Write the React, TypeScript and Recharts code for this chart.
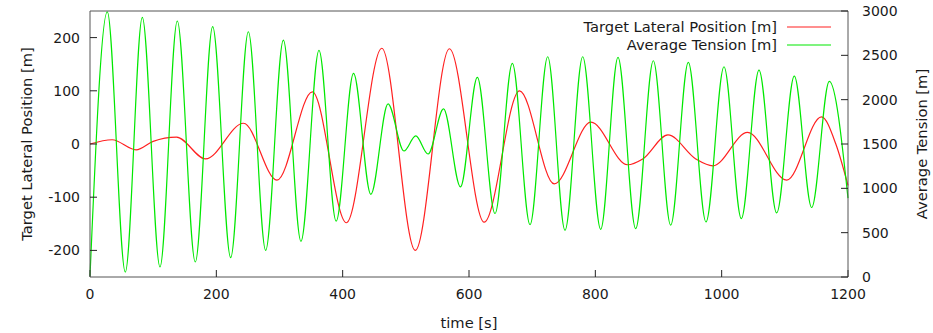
import React from 'react';
import { LineChart, Line, XAxis, YAxis, Legend, Label } from 'recharts';

const timeTicks = [0, 200, 400, 600, 800, 1000, 1200];
const positionTicks = [-200, -100, 0, 100, 200];
const tensionTicks = [0, 500, 1000, 1500, 2000, 2500, 3000];

const positionTimes = [0, 35, 73, 100, 137, 183, 243, 296, 352, 406, 462, 515, 569, 624, 680, 735, 793, 851, 875, 915, 959, 986, 1041, 1103, 1158, 1181, 1200];
const positionValues = [0, 8, -11, 5, 13, -28, 39, -68, 98, -148, 180, -200, 179, -147, 100, -75, 41, -39, -28, 17, -28, -41, 22, -68, 51, -1, -78];

const tensionTimes = [0, 27.4, 55.9, 82.8, 110.8, 138.2, 166.7, 194.2, 222.7, 250.7, 278.1, 306.1, 334, 362.5, 389.7, 417.2, 444.6, 471.8, 497, 515.7, 535.2, 559.7, 586.5, 613.2, 641.2, 668.6, 696.6, 724.6, 752, 780, 808.5, 835.9, 863.9, 891.8, 919.3, 947.2, 975.2, 1003.7, 1031.1, 1059.1, 1087.1, 1115, 1142.5, 1170.4, 1200];
const tensionValues = [10, 2990, 56, 2928, 113, 2887, 169, 2823, 219, 2766, 301, 2672, 403, 2555, 630, 2296, 932, 1952, 1421, 1592, 1387, 1897, 1016, 2251, 716, 2409, 591, 2484, 527, 2484, 538, 2477, 546, 2439, 584, 2420, 621, 2371, 659, 2334, 723, 2266, 784, 2206, 890];

const positionData = positionTimes.map((t, i) => ({ t, v: positionValues[i] }));
const tensionData = tensionTimes.map((t, i) => ({ t, v: tensionValues[i] }));

const seriesNames = ['Target Lateral Position [m]', 'Average Tension [m]'];
const seriesColors = ['#ff2020', '#00e800'];

const FONT = '"DejaVu Sans", sans-serif';
const TEXT = '#1a1a1a';
const FRAME = '#555555';
const tickStyle = { fontSize: 14, fill: TEXT, fontFamily: FONT };

const renderLegend = () => (
  <div style={{ width: 831, fontFamily: FONT, fontSize: 14.7, color: TEXT }}>
    {seriesNames.map((name, i) => (
      <div key={name} style={{ display: 'flex', justifyContent: 'flex-end', alignItems: 'center', height: 18.3, lineHeight: '18.3px' }}>
        <span>{name}</span>
        <svg width={44} height={4} style={{ marginLeft: 10, display: 'block' }}>
          <line x1={0} y1={2} x2={44} y2={2} stroke={seriesColors[i]} strokeWidth={1.2} />
        </svg>
      </div>
    ))}
  </div>
);

const verticalTitle = (text: string, offset: number) => (props: any) => {
  const vb = props.viewBox || {};
  const cx = vb.x + offset;
  const cy = vb.y + vb.height / 2;
  return (
    <text x={cx} y={cy} transform={`rotate(-90 ${cx} ${cy})`} textAnchor="middle" dominantBaseline="central"
      style={{ fontSize: 14.7, fill: TEXT, fontFamily: FONT }}>
      {text}
    </text>
  );
};

const bottomTitle = (props: any) => {
  const vb = props.viewBox || {};
  const cx = vb.x + vb.width / 2;
  const cy = vb.y + 45;
  return (
    <text x={cx} y={cy} textAnchor="middle" dominantBaseline="central" style={{ fontSize: 14.7, fill: TEXT, fontFamily: FONT }}>
      time [s]
    </text>
  );
};

export default function App() {
  return (
    <div style={{ position: 'absolute', left: 0, top: 0, width: 933, height: 333, background: '#ffffff' }}>
      <LineChart width={933} height={333} margin={{ top: 10, right: 0, bottom: 0, left: 0 }}>
        <XAxis xAxisId="bottom" type="number" dataKey="t" domain={[0, 1200]} ticks={timeTicks} height={56}
          tickSize={-7} tickMargin={19} tick={tickStyle} stroke={FRAME} axisLine={{ stroke: FRAME }} tickLine={{ stroke: '#222' }}>
          <Label content={bottomTitle} />
        </XAxis>
        <XAxis xAxisId="top" orientation="top" type="number" dataKey="t" domain={[0, 1200]} ticks={timeTicks} height={1}
          tickSize={-7} tick={false} axisLine={{ stroke: FRAME }} tickLine={{ stroke: '#222' }} />
        <YAxis yAxisId="left" type="number" domain={[-250, 250]} ticks={positionTicks} width={90}
          tickSize={-7} tickMargin={17} tick={tickStyle} axisLine={{ stroke: FRAME }} tickLine={{ stroke: '#222' }}>
          <Label content={verticalTitle(seriesNames[0], 26)} />
        </YAxis>
        <YAxis yAxisId="right" orientation="right" type="number" domain={[0, 3000]} ticks={tensionTicks} width={85}
          tickSize={-7} tickMargin={21} tick={tickStyle} axisLine={{ stroke: FRAME }} tickLine={{ stroke: '#222' }}>
          <Label content={verticalTitle(seriesNames[1], 73)} />
        </YAxis>
        <Legend layout="horizontal" verticalAlign="middle" align="center" content={renderLegend}
          wrapperStyle={{ position: 'absolute', top: 17.5, left: 0, width: 831, height: 37 }} />
        <Line xAxisId="top" yAxisId="left" data={positionData} dataKey="v" name={seriesNames[0]} type="monotone"
          stroke={seriesColors[0]} strokeWidth={1.2} dot={false} activeDot={false} isAnimationActive={false} />
        <Line xAxisId="bottom" yAxisId="right" data={tensionData} dataKey="v" name={seriesNames[1]} type="monotone"
          stroke={seriesColors[1]} strokeWidth={1.2} dot={false} activeDot={false} isAnimationActive={false} />
      </LineChart>
    </div>
  );
}
